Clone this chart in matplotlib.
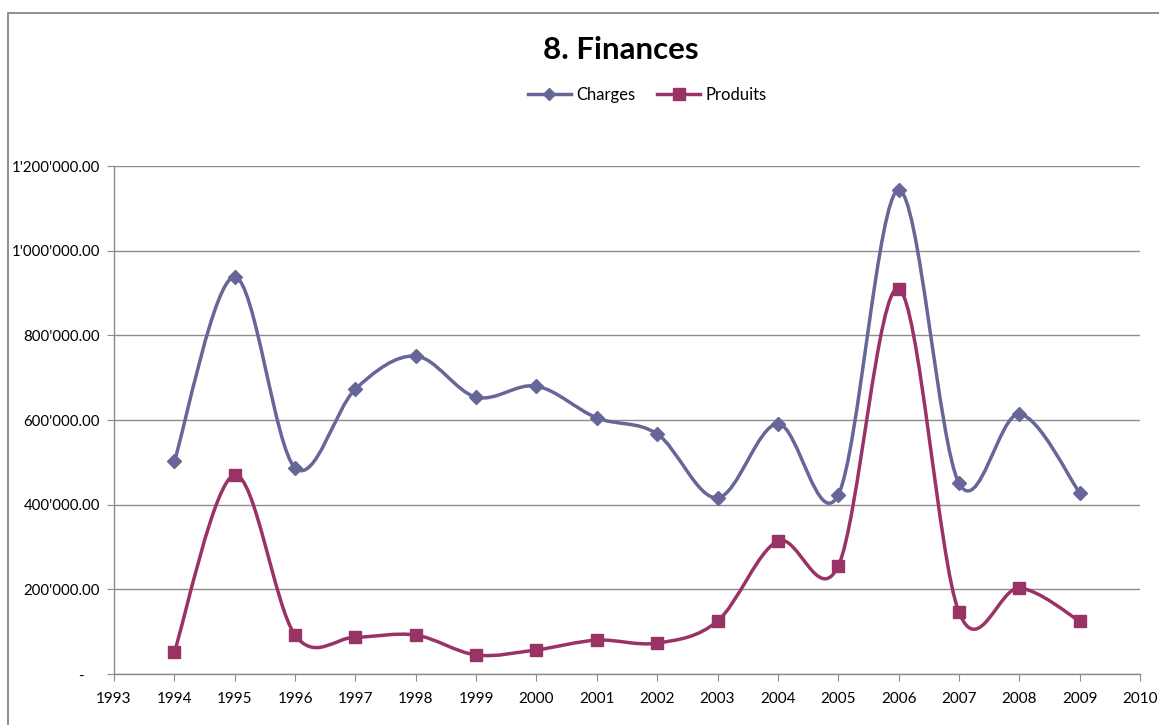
import matplotlib
matplotlib.use("Agg")
import matplotlib.pyplot as plt
from matplotlib.path import Path
from matplotlib.patches import PathPatch, Rectangle
from matplotlib.lines import Line2D
from matplotlib.ticker import FuncFormatter, MultipleLocator

plt.rcParams['font.family'] = ['Lato', 'DejaVu Sans']

years = [1994, 1995, 1996, 1997, 1998, 1999, 2000, 2001, 2002, 2003,
         2004, 2005, 2006, 2007, 2008, 2009]
charges = [502000, 938000, 487000, 673000, 751000, 654000, 680000, 605000,
           567000, 416000, 591000, 423000, 1143000, 451000, 614000, 428000]
produits = [52000, 470000, 92000, 87000, 92000, 45000, 57000, 80000,
            73000, 125000, 314000, 255000, 910000, 146000, 203000, 125000]
series_names = ["Charges", "Produits"]
colors = ["#666699", "#993366"]
title = "8. Finances"

W, H = 1159, 725
fig = plt.figure(figsize=(W / 100, H / 100), dpi=100)
ax = fig.add_axes([114 / W, 1 - 674 / H, (1140 - 114) / W, (674 - 166) / H])

# outer chart frame (cut off at right/bottom like the reference)
fig.patches.append(Rectangle((8 / W, -0.1), 1.2, 1 - 12.5 / H + 0.1,
                             transform=fig.transFigure, fill=False,
                             edgecolor="#878787", linewidth=1.3, zorder=0))


def smooth_path(xs, ys):
    # Catmull-Rom style cubic Bezier, as Excel "smoothed line"
    n = len(xs)
    verts = [(xs[0], ys[0])]
    codes = [Path.MOVETO]
    for i in range(n - 1):
        x0, y0 = (xs[i - 1], ys[i - 1]) if i > 0 else (xs[i], ys[i])
        x1, y1 = xs[i], ys[i]
        x2, y2 = xs[i + 1], ys[i + 1]
        x3, y3 = (xs[i + 2], ys[i + 2]) if i + 2 < n else (xs[i + 1], ys[i + 1])
        c1 = (x1 + (x2 - x0) / 6, y1 + (y2 - y0) / 6)
        c2 = (x2 - (x3 - x1) / 6, y2 - (y3 - y1) / 6)
        verts += [c1, c2, (x2, y2)]
        codes += [Path.CURVE4] * 3
    return Path(verts, codes)


markers = ["D", "s"]
msizes = [7, 9]
handles = []
for vals, col, mk, ms, name in zip([charges, produits], colors, markers, msizes, series_names):
    ax.add_patch(PathPatch(smooth_path(years, vals), facecolor="none",
                           edgecolor=col, linewidth=2.5, zorder=3, clip_on=False))
    ax.plot(years, vals, linestyle="none", marker=mk, markersize=ms,
            color=col, markeredgecolor=col, zorder=4, clip_on=False)
    handles.append(Line2D([], [], color=col, linewidth=2.5, marker=mk,
                          markersize=ms - 1, label=name))

ax.set_xlim(1993, 2010)
ax.set_ylim(0, 1200000)
ax.xaxis.set_major_locator(MultipleLocator(1))
ax.yaxis.set_major_locator(MultipleLocator(200000))


def yfmt(v, pos):
    if abs(v) < 1:
        return "-    "
    s = f"{v:,.2f}".replace(",", "'")
    return s


ax.yaxis.set_major_formatter(FuncFormatter(yfmt))
ax.xaxis.set_major_formatter(FuncFormatter(lambda v, p: f"{int(round(v))}"))
ax.grid(axis="y", color="#8c8c8c", linewidth=1.0)
ax.set_axisbelow(True)
for s in ["top", "right"]:
    ax.spines[s].set_visible(False)
for s in ["left", "bottom"]:
    ax.spines[s].set_color("#8c8c8c")
    ax.spines[s].set_linewidth(1.0)
ax.tick_params(axis="both", colors="#8c8c8c", labelcolor="black",
               labelsize=11, length=5, direction="out")
ax.tick_params(axis="y", labelsize=10.8, pad=5)
ax.tick_params(axis="x", pad=8)

fig.text(621 / W, 1 - 50 / H, title, ha="center", va="center",
         fontsize=22.5, fontweight="bold")
fig.legend(handles=handles, loc="center", bbox_to_anchor=(647 / W, 1 - 95 / H),
           ncol=2, frameon=False, fontsize=12, handlelength=2.6,
           columnspacing=1.3, handletextpad=0.3)

fig.savefig("out.png", dpi=100, facecolor="white")
